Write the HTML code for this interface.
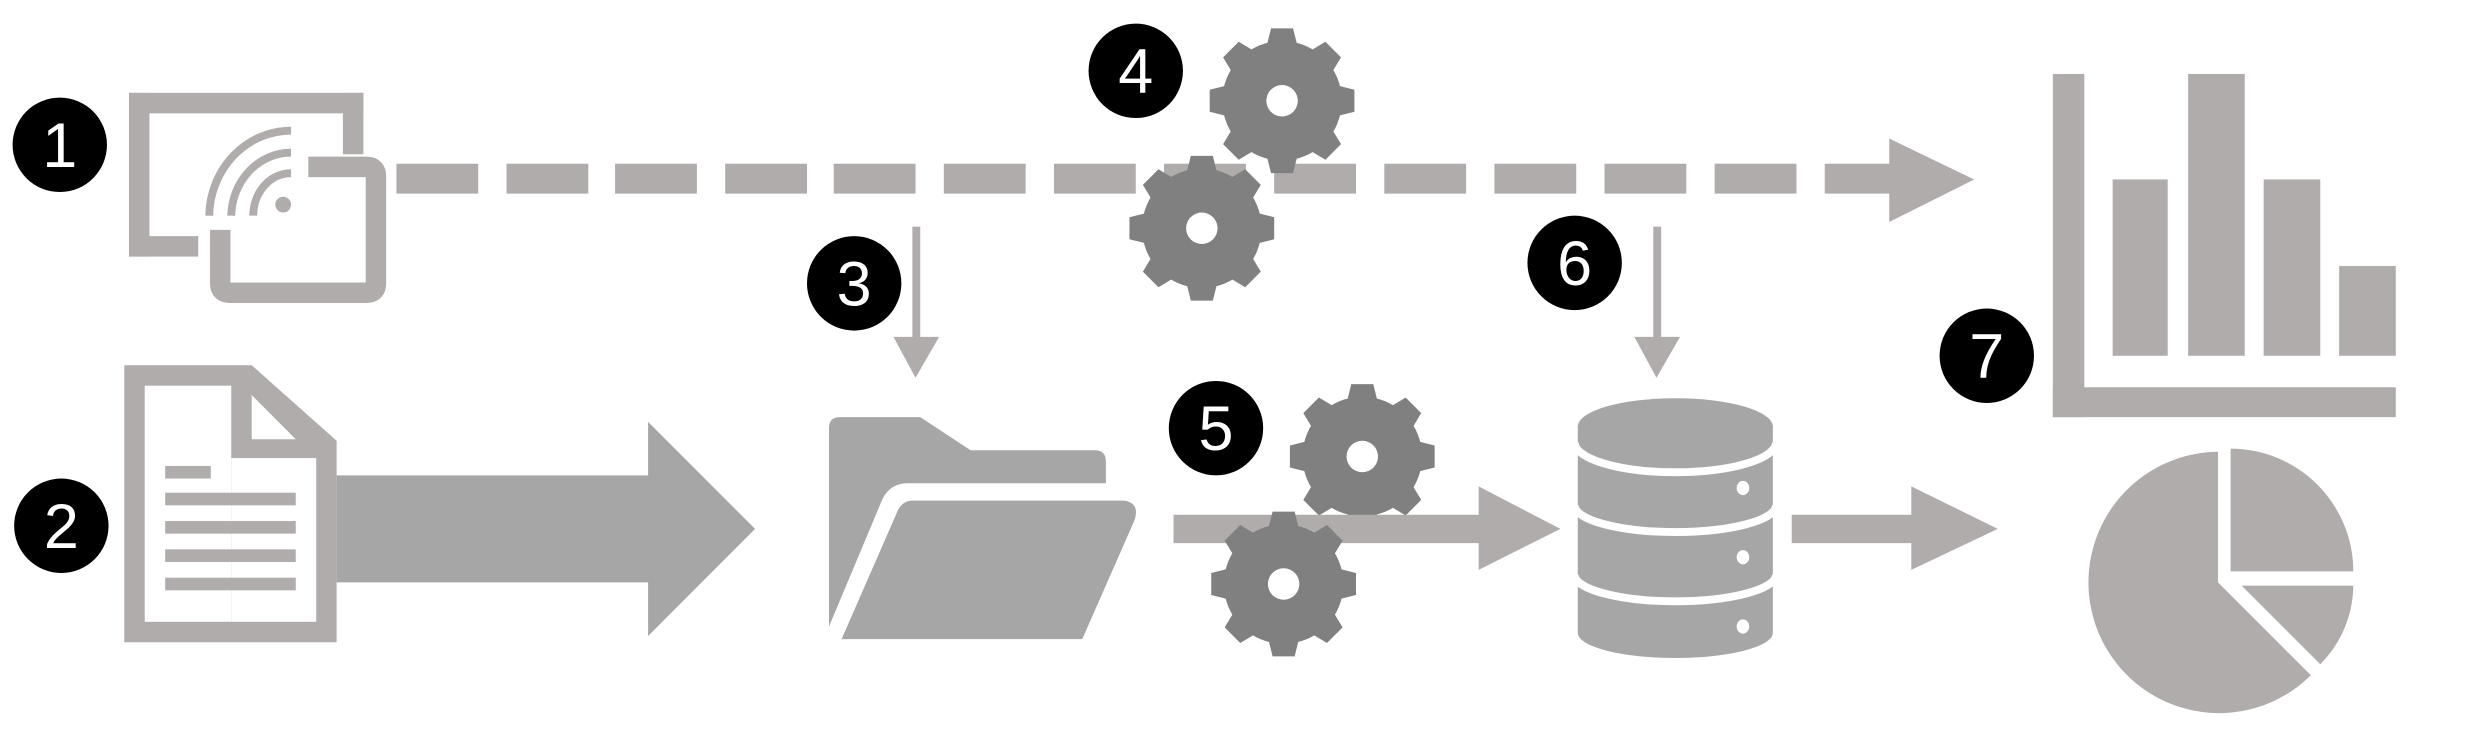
<!DOCTYPE html>
<html><head><style>html,body{margin:0;padding:0;background:#fff;width:2465px;height:743px;overflow:hidden}svg{display:block}</style></head>
<body>
<svg width="2465" height="743" viewBox="0 0 1567 472" preserveAspectRatio="none" xmlns="http://www.w3.org/2000/svg">
<defs>
<g id="gear">
<circle r="38" fill="#808080"/>
<g fill="#808080">
<polygon points="-7,-46 7,-46 10,-34 -10,-34"/>
<polygon points="-7,-46 7,-46 10,-34 -10,-34" transform="rotate(45)"/>
<polygon points="-7,-46 7,-46 10,-34 -10,-34" transform="rotate(90)"/>
<polygon points="-7,-46 7,-46 10,-34 -10,-34" transform="rotate(135)"/>
<polygon points="-7,-46 7,-46 10,-34 -10,-34" transform="rotate(180)"/>
<polygon points="-7,-46 7,-46 10,-34 -10,-34" transform="rotate(225)"/>
<polygon points="-7,-46 7,-46 10,-34 -10,-34" transform="rotate(270)"/>
<polygon points="-7,-46 7,-46 10,-34 -10,-34" transform="rotate(315)"/>
</g>
<circle r="10" fill="#fff"/>
</g>
</defs>
<g fill="#b0acab">
<rect x="82" y="59" width="13" height="104"/>
<rect x="82" y="59" width="149" height="13"/>
<rect x="218" y="59" width="13" height="39"/>
<rect x="82" y="150" width="44" height="13"/>
</g>
<path d="M140,146 L140,180 Q140,186 146,186 L233,186 Q239,186 239,180 L239,112 Q239,106 233,106 L196,106" fill="none" stroke="#b0acab" stroke-width="13"/>
<g fill="none" stroke="#b0acab" stroke-width="5">
<path d="M133,137 A52,55 0 0 1 185,83"/>
<path d="M147,137 A38,41 0 0 1 185,97"/>
<path d="M161,137 A24,27 0 0 1 185,110"/>
</g>
<circle cx="180" cy="130" r="5" fill="#b0acab"/>
<g fill="#b0acab">
<rect x="252" y="104" width="52" height="19"/>
<rect x="322" y="104" width="52" height="19"/>
<rect x="391" y="104" width="52" height="19"/>
<rect x="461" y="104" width="52" height="19"/>
<rect x="530" y="104" width="52" height="19"/>
<rect x="600" y="104" width="52" height="19"/>
<rect x="670" y="104" width="52" height="19"/>
<rect x="740" y="104" width="52" height="19"/>
<rect x="810" y="104" width="52" height="19"/>
<rect x="880" y="104" width="52" height="19"/>
<rect x="950" y="104" width="52" height="19"/>
<rect x="1020" y="104" width="52" height="19"/>
<rect x="1090" y="104" width="52" height="19"/>
<rect x="1160" y="104" width="42" height="19"/>
<polygon points="1201,88 1255,114 1201,141"/>
</g>
<use href="#gear" x="815" y="64"/>
<use href="#gear" x="764" y="145"/>
<use href="#gear" x="866" y="290"/>
<g fill="#b0acab">
<rect x="580" y="144" width="5" height="72"/>
<polygon points="568,214 597,214 582,240"/>
<rect x="1051" y="144" width="5" height="72"/>
<polygon points="1039,214 1068,214 1053,240"/>
</g>
<polygon points="79,232 160,232 214,280 214,408 79,408" fill="#b0acab"/>
<rect x="92" y="245" width="55" height="150" fill="#fff"/>
<rect x="147" y="291" width="54" height="104" fill="#fff"/>
<polygon points="160,251 188,279 160,279" fill="#fff"/>
<g fill="#b0acab">
<rect x="105" y="296" width="29" height="8"/>
<rect x="105" y="313" width="83" height="8"/>
<rect x="105" y="331" width="83" height="8"/>
<rect x="105" y="349" width="83" height="8"/>
<rect x="105" y="367" width="83" height="8"/>
</g>
<polygon points="214,302 412,302 412,268 480,336 412,404 412,370 214,370" fill="#a6a6a6"/>
<path d="M527,272 Q527,265 534,265 L585,265 L617,286 L696,286 Q703,286 703,293 L703,307 L577,307 Q566,307 561,317 L527,398 Z" fill="#a6a6a6"/>
<path d="M580,318 L715,318 Q725,320 721,331 L688,406 L535,406 L570,326 Q573,318 580,318 Z" fill="#a6a6a6"/>
<polygon points="746,327 940,327 940,309 992,336 940,362 940,345 746,345" fill="#b0acab"/>
<use href="#gear" x="816" y="371"/>
<path d="M1003,271 L1003,402 A62,16 0 0 0 1127,402 L1127,271 Z" fill="#a6a6a6"/>
<g fill="none" stroke="#fff" stroke-width="5">
<path d="M1001,281 A64,19 0 0 0 1129,281"/>
<path d="M1001,321 A64,17 0 0 0 1129,321"/>
<path d="M1001,365 A64,17 0 0 0 1129,365"/>
</g>
<ellipse cx="1065" cy="271" rx="62" ry="18" fill="#a6a6a6"/>
<g fill="#fff">
<ellipse cx="1108" cy="310" rx="4" ry="4.5"/>
<ellipse cx="1108" cy="354" rx="4" ry="4.5"/>
<ellipse cx="1108" cy="398" rx="4" ry="4.5"/>
</g>
<polygon points="1139,327 1215,327 1215,309 1270,336 1215,362 1215,345 1139,345" fill="#b0acab"/>
<g fill="#b0acab">
<rect x="1305" y="47" width="20" height="218"/>
<rect x="1305" y="246" width="218" height="19"/>
<rect x="1343" y="114" width="35" height="112"/>
<rect x="1391" y="47" width="36" height="179"/>
<rect x="1439" y="114" width="36" height="112"/>
<rect x="1487" y="169" width="36" height="57"/>
</g>
<g fill="#b0acab">
<path d="M1410,370 L1410,287 A83,83 0 1 0 1469,429 Z"/>
<path d="M1418,363 L1418,285 A78,78 0 0 1 1496,363 Z"/>
<path d="M1425,372 L1496,372 A72,72 0 0 1 1475,422 Z"/>
</g>
<g font-family="Liberation Sans, sans-serif" font-size="40" fill="#fff" text-anchor="middle">
<circle cx="38" cy="92" r="30" fill="#000"/><text x="38" y="106">1</text>
<circle cx="39" cy="334" r="30" fill="#000"/><text x="39" y="348">2</text>
<circle cx="543" cy="180" r="30" fill="#000"/><text x="543" y="194">3</text>
<circle cx="722" cy="45" r="30" fill="#000"/><text x="722" y="59">4</text>
<circle cx="773" cy="272" r="30" fill="#000"/><text x="773" y="286">5</text>
<circle cx="1001" cy="167" r="30" fill="#000"/><text x="1001" y="181">6</text>
<circle cx="1263" cy="226" r="30" fill="#000"/><text x="1263" y="240">7</text>
</g>
</svg>
</body></html>
